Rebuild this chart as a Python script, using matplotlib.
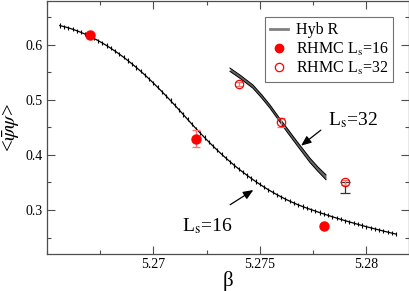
import matplotlib
matplotlib.use('Agg')
import matplotlib.pyplot as plt
from matplotlib.lines import Line2D
from matplotlib.ticker import MultipleLocator
import numpy as np

plt.rcParams['font.family'] = ['Liberation Serif', 'DejaVu Serif']
plt.rcParams['mathtext.fontset'] = 'stix'

# Hyb R, Ls=16 (line with small error ticks)
beta16 = [5.2656, 5.2658, 5.2660, 5.2662, 5.2664, 5.2666, 5.2668, 5.2670,
          5.2672, 5.2674, 5.2676, 5.2678, 5.2680, 5.2682, 5.2684, 5.2686,
          5.2688, 5.2690, 5.2692, 5.2694, 5.2696, 5.2698, 5.2700, 5.2702,
          5.2704, 5.2706, 5.2708, 5.2710, 5.2712, 5.2714, 5.2716, 5.2718,
          5.2720, 5.2722, 5.2724, 5.2726, 5.2728, 5.2730, 5.2732, 5.2734,
          5.2736, 5.2738, 5.2740, 5.2742, 5.2744, 5.2746, 5.2748, 5.2750,
          5.2752, 5.2754, 5.2756, 5.2758, 5.2760, 5.2762, 5.2764, 5.2766,
          5.2768, 5.2770, 5.2772, 5.2774, 5.2776, 5.2778, 5.2780, 5.2782,
          5.2784, 5.2786, 5.2788, 5.2790, 5.2792, 5.2794, 5.2796, 5.2798,
          5.2800, 5.2802, 5.2804, 5.2806, 5.2808, 5.2810, 5.2812, 5.2814]
pbp16 = [0.6352, 0.6332, 0.6310, 0.6285, 0.6257, 0.6227, 0.6194, 0.6158,
         0.6119, 0.6078, 0.6034, 0.5988, 0.5938, 0.5886, 0.5832, 0.5775,
         0.5715, 0.5653, 0.5588, 0.5521, 0.5452, 0.5380, 0.5305, 0.5228,
         0.5150, 0.5070, 0.4988, 0.4905, 0.4821, 0.4735, 0.4648, 0.4562,
         0.4478, 0.4396, 0.4316, 0.4237, 0.4160, 0.4086, 0.4013, 0.3943,
         0.3876, 0.3810, 0.3747, 0.3687, 0.3628, 0.3572, 0.3517, 0.3465,
         0.3415, 0.3367, 0.3322, 0.3278, 0.3237, 0.3197, 0.3160, 0.3126,
         0.3093, 0.3063, 0.3034, 0.3007, 0.2980, 0.2953, 0.2927, 0.2902,
         0.2877, 0.2853, 0.2829, 0.2806, 0.2783, 0.2761, 0.2739, 0.2717,
         0.2696, 0.2676, 0.2656, 0.2636, 0.2617, 0.2598, 0.2579, 0.2561]
err16 = 0.0038

# Hyb R, Ls=32 (band)
beta32 = [5.27359, 5.27406, 5.27467, 5.27509, 5.27547, 5.27594, 5.27632,
          5.27674, 5.27735, 5.27773, 5.27810]
pbp32 = [0.5550, 0.5424, 0.5243, 0.5061, 0.4880, 0.4627, 0.4428,
         0.4210, 0.3902, 0.3739, 0.3595]
err32 = [0.003, 0.003, 0.003, 0.003, 0.003, 0.003, 0.0035,
         0.0035, 0.004, 0.004, 0.0045]

# RHMC points
rhmc16_beta = [5.267, 5.272, 5.278]
rhmc16_pbp = [0.618, 0.4295, 0.270]
rhmc16_err = [0.003, 0.015, 0.003]

rhmc32_beta = [5.274, 5.276, 5.279]
rhmc32_pbp = [0.529, 0.4596, 0.350]
rhmc32_err = [0.004, 0.008, 0.004]
low32_err = 0.019  # black lower bar on last point

fig = plt.figure(figsize=(4.1, 2.91), dpi=100)
ax = fig.add_axes([0.1146, 0.1271, 0.883, 0.8699])

# Ls=16 curve
ax.plot(beta16, pbp16, color='black', lw=0.9, zorder=2)
ax.errorbar(beta16, pbp16, yerr=err16, fmt='none', ecolor='black',
            elinewidth=0.8, capsize=0, zorder=2)

# Ls=32 band
lo = np.array(pbp32) - np.array(err32)
hi = np.array(pbp32) + np.array(err32)
ax.fill_between(beta32, lo, hi, color='0.4', lw=0, zorder=2)
ax.plot(beta32, lo, color='black', lw=0.7, zorder=2)
ax.plot(beta32, hi, color='black', lw=0.7, zorder=2)

# black lower bar
ax.errorbar([rhmc32_beta[2]], [rhmc32_pbp[2]], yerr=[[low32_err], [0]],
            fmt='none', ecolor='0.2', elinewidth=0.9, capsize=3.5,
            capthick=0.9, zorder=3)

# RHMC points
ax.errorbar(rhmc16_beta, rhmc16_pbp, yerr=rhmc16_err, fmt='o', color='red',
            ms=6.5, ecolor='#ff7070', elinewidth=0.9, capsize=3,
            capthick=0.9, zorder=4)
ax.errorbar(rhmc32_beta, rhmc32_pbp, yerr=rhmc32_err, fmt='o', mfc='none',
            mec='red', mew=0.9, ms=6, ecolor='#ff7070', elinewidth=0.9,
            capsize=3, capthick=0.9, zorder=4)

ax.set_xlim(5.265, 5.282)
ax.set_ylim(0.22, 0.68)
ax.xaxis.set_minor_locator(MultipleLocator(0.0025))
ax.yaxis.set_minor_locator(MultipleLocator(0.05))
ax.set_xticks([5.27, 5.275, 5.28])
ax.set_xticklabels(['5.27', '5.275', '5.28'])
ax.set_yticks([0.3, 0.4, 0.5, 0.6])
ax.set_yticklabels(['0.3', '0.4', '0.5', '0.6'])
ax.tick_params(which='both', direction='in', top=True, right=True,
               colors='0.3', labelcolor='black', labelsize=10, pad=3)
ax.tick_params(which='major', length=5.5, width=0.8)
ax.tick_params(which='minor', length=3, width=0.8)
for s in ax.spines.values():
    s.set_color('0.3')
    s.set_linewidth(0.9)

ax.set_xlabel('β', fontsize=15, labelpad=0)
ax.set_ylabel(r'<$\bar{\psi}\psi$>', fontsize=15, labelpad=3)

# annotations
ax.annotate('', xy=(5.27683, 0.4138), xytext=(5.27796, 0.4482),
            arrowprops=dict(arrowstyle='-|>,head_length=0.6,head_width=0.25',
                            color='black', lw=0.9))
ax.text(5.27820, 0.4536, r'L$_\mathrm{s}$=32', fontsize=14,
        ha='left', va='baseline')
ax.annotate('', xy=(5.2748, 0.339), xytext=(5.27349, 0.3069),
            arrowprops=dict(arrowstyle='-|>,head_length=0.6,head_width=0.25',
                            color='black', lw=0.9))
ax.text(5.27135, 0.2604, r'L$_\mathrm{s}$=16', fontsize=14,
        ha='left', va='baseline')

handles = [Line2D([], [], color='0.5', lw=2),
           Line2D([], [], ls='none', marker='o', color='red', ms=6),
           Line2D([], [], ls='none', marker='o', mfc='none', mec='red',
                  mew=0.9, ms=6)]
labels = ['Hyb R', r'RHMC L$_\mathrm{s}$=16', r'RHMC L$_\mathrm{s}$=32']
leg = ax.legend(handles, labels, loc='upper right',
                bbox_to_anchor=(0.956, 0.935), fontsize=11.5,
                frameon=True, fancybox=False, handlelength=1.1,
                handletextpad=0.5, labelspacing=0.15, borderpad=0.3,
                borderaxespad=0)
leg.get_frame().set_edgecolor('0.3')
leg.get_frame().set_linewidth(0.8)

fig.savefig('out.png', dpi=100)
